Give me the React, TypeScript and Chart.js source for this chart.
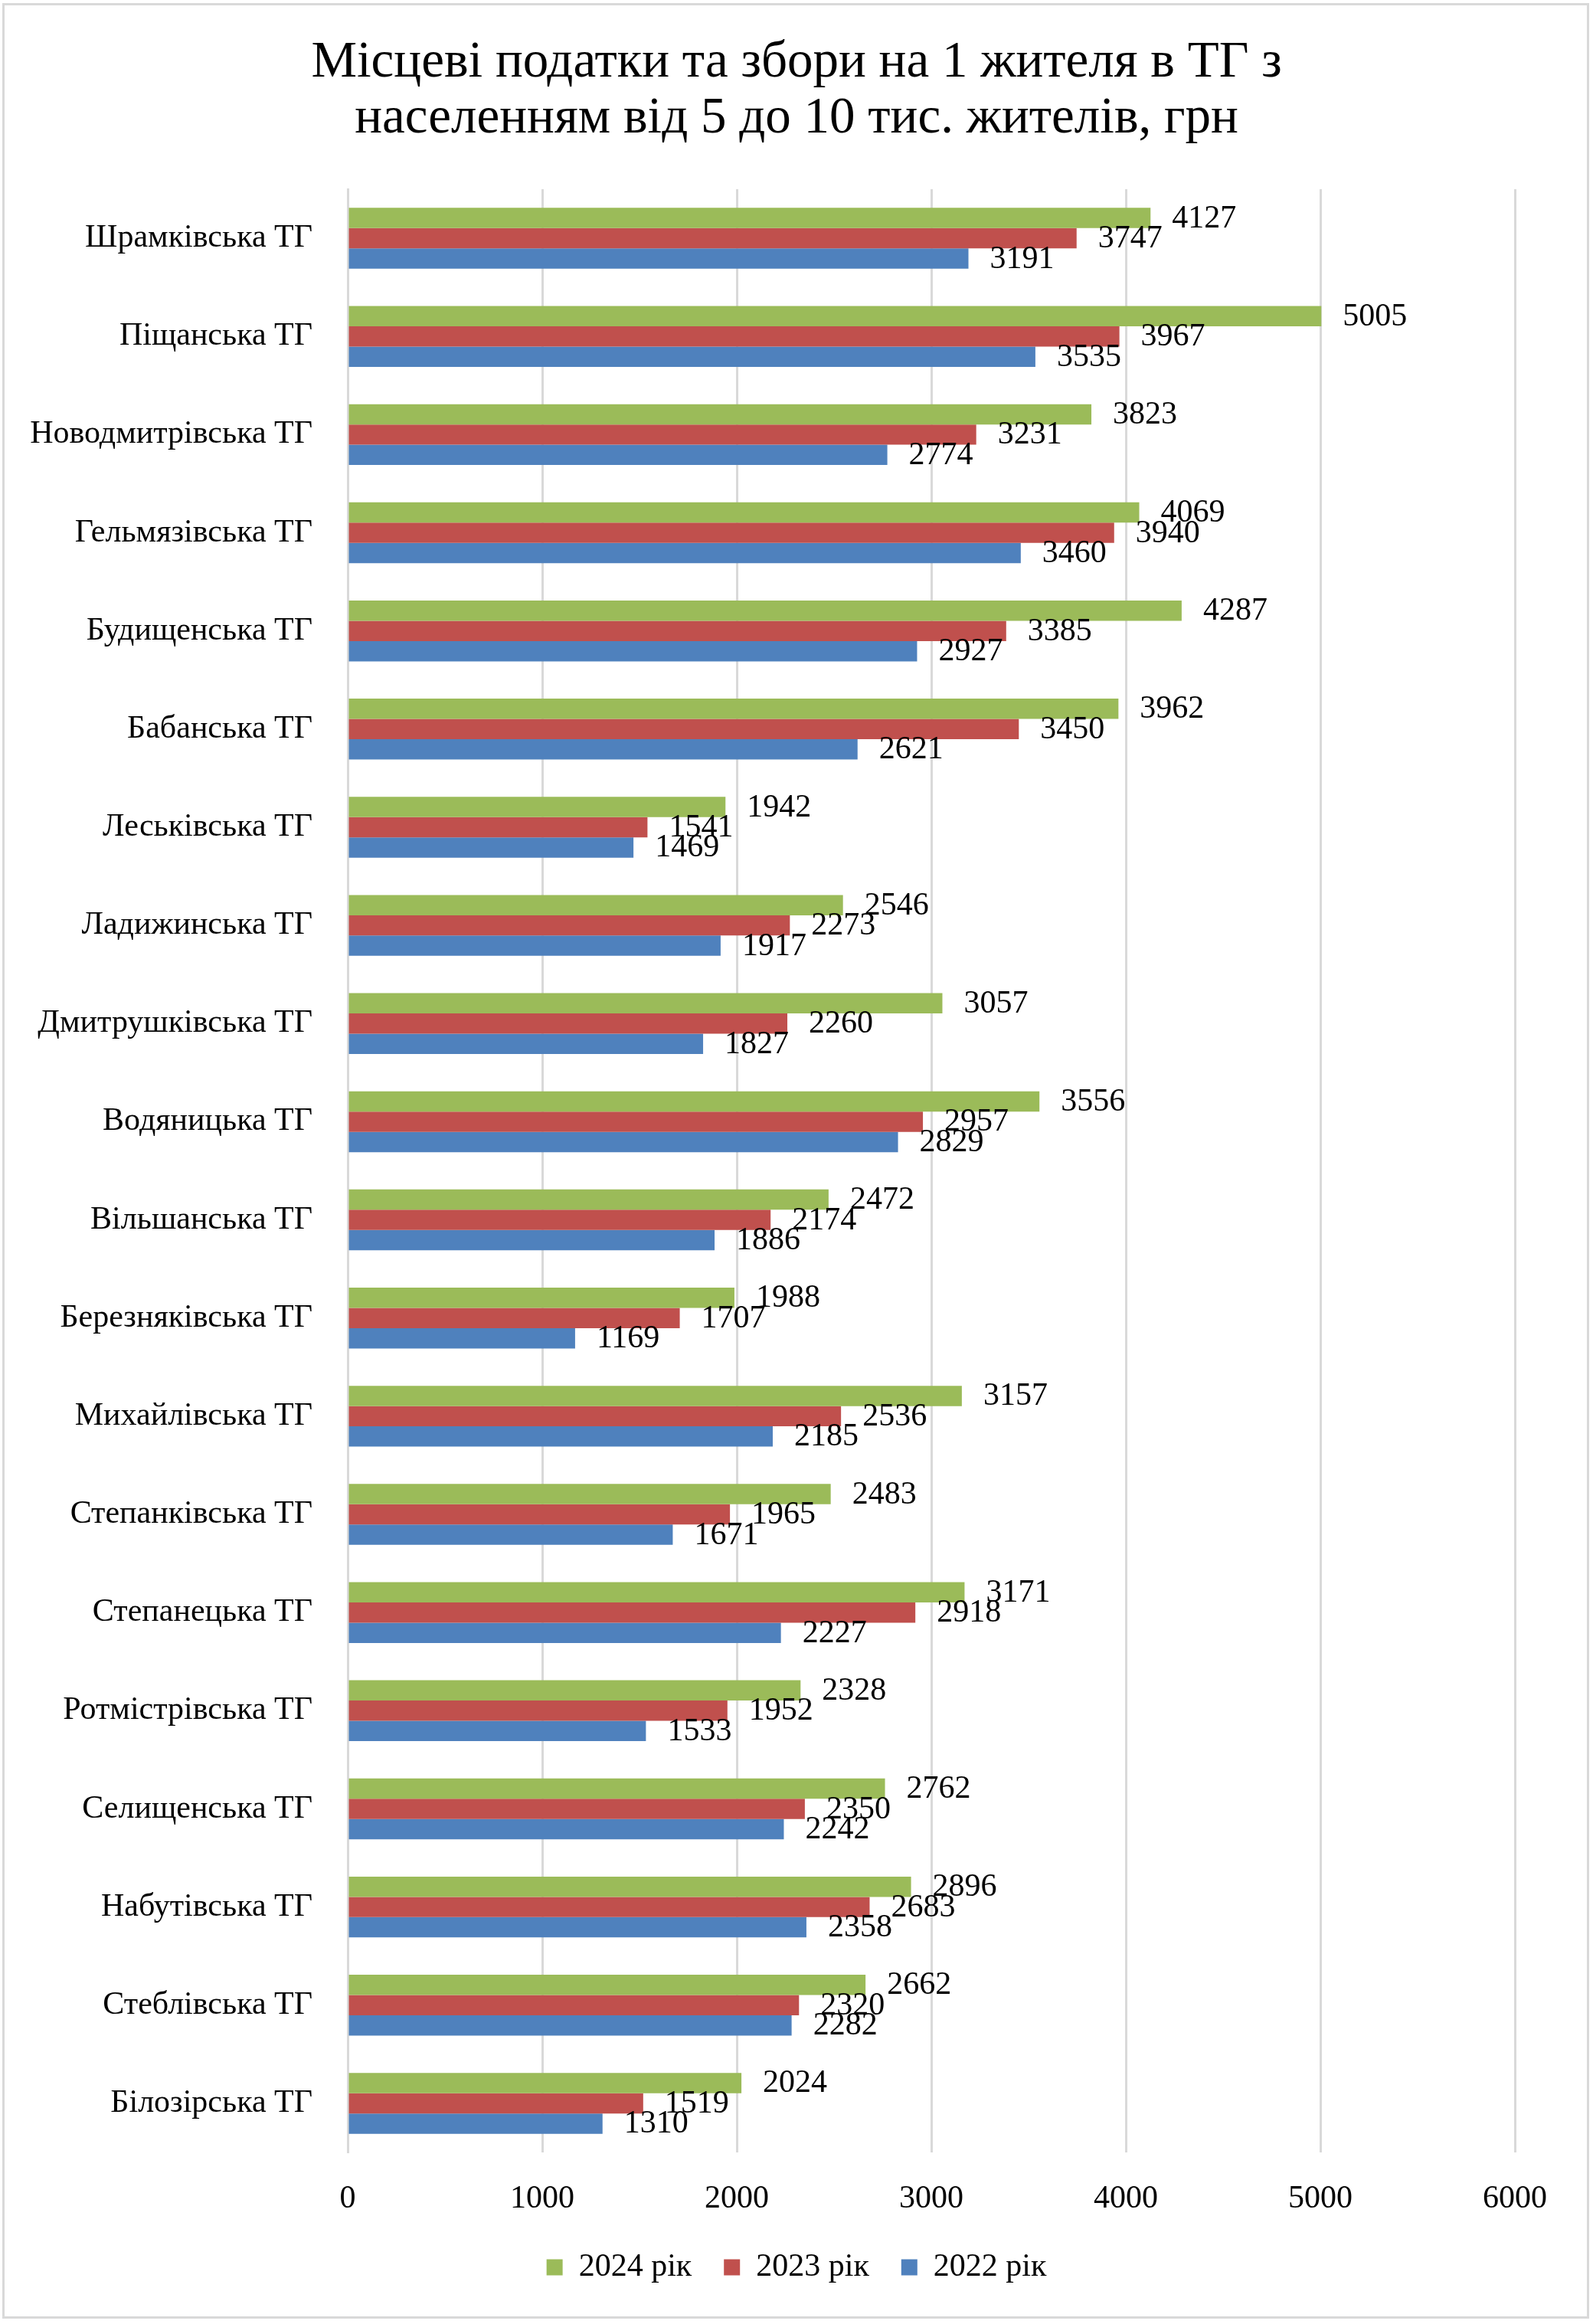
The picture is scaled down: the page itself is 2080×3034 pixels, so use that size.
import React, { useEffect, useRef } from 'react';
import { Chart, registerables } from 'chart.js';

Chart.register(...registerables);

// Territorial communities, top to bottom
const categories = [
  'Шрамківська ТГ',
  'Піщанська ТГ',
  'Новодмитрівська ТГ',
  'Гельмязівська ТГ',
  'Будищенська ТГ',
  'Бабанська ТГ',
  'Леськівська ТГ',
  'Ладижинська ТГ',
  'Дмитрушківська ТГ',
  'Водяницька ТГ',
  'Вільшанська ТГ',
  'Березняківська ТГ',
  'Михайлівська ТГ',
  'Степанківська ТГ',
  'Степанецька ТГ',
  'Ротмістрівська ТГ',
  'Селищенська ТГ',
  'Набутівська ТГ',
  'Стеблівська ТГ',
  'Білозірська ТГ',
];

const values2024 = [4127, 5005, 3823, 4069, 4287, 3962, 1942, 2546, 3057, 3556, 2472, 1988, 3157, 2483, 3171, 2328, 2762, 2896, 2662, 2024];
const values2023 = [3747, 3967, 3231, 3940, 3385, 3450, 1541, 2273, 2260, 2957, 2174, 1707, 2536, 1965, 2918, 1952, 2350, 2683, 2320, 1519];
const values2022 = [3191, 3535, 2774, 3460, 2927, 2621, 1469, 1917, 1827, 2829, 1886, 1169, 2185, 1671, 2227, 1533, 2242, 2358, 2282, 1310];

const seriesNames = ['2024 рік', '2023 рік', '2022 рік'];
const seriesColors = ['#9BBB59', '#C0504D', '#4F81BD'];

const axisMin = 0;
const axisMax = 6000;
const axisStep = 1000;

const titleLines = [
  'Місцеві податки та збори на 1 жителя в ТГ з',
  'населенням від 5 до 10 тис. жителів, грн',
];

const FONT = '"Liberation Serif", serif';
const TEXT_SIZE = 42;
const TITLE_SIZE = 67;
const GRID = '#D9D9D9';
const AXIS_LEFT = 454;
const RIGHT_GAP = 102;

// Writes each bar's value just past its end, centred on the bar
const valueLabels = {
  id: 'valueLabels',
  afterDatasetsDraw(chart: any) {
    const ctx = chart.ctx;
    ctx.save();
    ctx.font = `${TEXT_SIZE}px ${FONT}`;
    ctx.fillStyle = '#000000';
    ctx.textAlign = 'left';
    ctx.textBaseline = 'middle';
    chart.data.datasets.forEach((ds: any, i: number) => {
      const meta = chart.getDatasetMeta(i);
      meta.data.forEach((bar: any, j: number) => {
        ctx.fillText(String(ds.data[j]), bar.x + 28, bar.y + 1);
      });
    });
    ctx.restore();
  },
};

export default function App() {
  const canvasRef = useRef<HTMLCanvasElement | null>(null);

  useEffect(() => {
    const canvas = canvasRef.current;
    if (!canvas) return;
    const datasets = [values2024, values2023, values2022].map((data, i) => ({
      label: seriesNames[i],
      data,
      backgroundColor: seriesColors[i],
      borderWidth: 0,
      categoryPercentage: 0.62,
      barPercentage: 1.0,
    }));

    const chart = new Chart(canvas, {
      type: 'bar',
      data: { labels: categories, datasets },
      plugins: [valueLabels],
      options: {
        indexAxis: 'y',
        responsive: false,
        animation: false,
        devicePixelRatio: 1,
        layout: { padding: { left: 0, right: 0, top: 0, bottom: 43 } },
        scales: {
          x: {
            type: 'linear',
            min: axisMin,
            max: axisMax,
            ticks: {
              stepSize: axisStep,
              color: '#000000',
              font: { family: FONT, size: TEXT_SIZE },
              padding: 36,
              callback: (v: any) => String(v),
            },
            grid: { color: GRID, lineWidth: 3, drawTicks: false },
            border: { display: false },
            afterFit: (s: any) => {
              s.height = 87;
            },
          },
          y: {
            type: 'category',
            ticks: {
              color: '#000000',
              font: { family: FONT, size: TEXT_SIZE },
              padding: 46,
              autoSkip: false,
            },
            grid: { display: false, drawTicks: false },
            border: { display: true, color: GRID, width: 3 },
            afterFit: (s: any) => {
              s.width = AXIS_LEFT;
            },
          },
          // empty right-hand strip that keeps the plot clear of the right edge
          yRight: {
            type: 'category',
            position: 'right',
            ticks: { display: false },
            grid: { display: false, drawTicks: false },
            border: { display: false },
            afterFit: (s: any) => {
              s.width = RIGHT_GAP;
            },
          },
        },
        plugins: {
          title: {
            display: true,
            text: titleLines,
            color: '#000000',
            font: { family: FONT, size: TITLE_SIZE, weight: 'normal', lineHeight: 73 / TITLE_SIZE },
            padding: { top: 46, bottom: 55 },
          },
          legend: {
            position: 'bottom',
            labels: {
              color: '#000000',
              font: { family: FONT, size: TEXT_SIZE },
              boxWidth: 21,
              boxHeight: 21,
              padding: 42,
            },
          },
          tooltip: { enabled: false },
        },
      },
    });
    return () => chart.destroy();
  }, []);

  return (
    <div style={{ position: 'absolute', left: 0, top: 0, width: 2080, height: 3034, background: '#ffffff' }}>
      <canvas ref={canvasRef} width={2080} height={3034} style={{ display: 'block' }} />
      <div
        style={{
          position: 'absolute',
          left: 3,
          top: 4,
          width: 2072,
          height: 3023,
          border: `3px solid ${GRID}`,
          boxSizing: 'border-box',
          pointerEvents: 'none',
        }}
      />
    </div>
  );
}
